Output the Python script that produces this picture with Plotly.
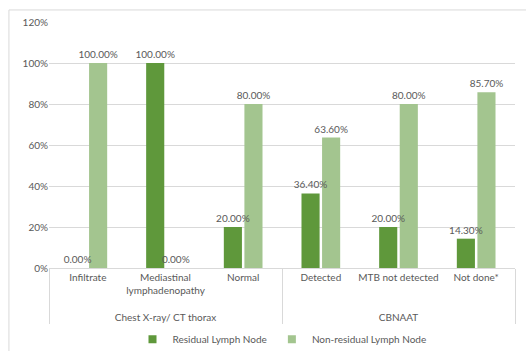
import plotly.graph_objects as go

groups = ["Chest X-ray/ CT thorax"] * 3 + ["CBNAAT"] * 3
categories = ["Infiltrate", "Mediastinal<br>lymphadenopathy<br> ", "Normal",
              "Detected", "MTB not detected", "Not done*"]
residual = [0.0, 100.0, 20.0, 36.4, 20.0, 14.3]
non_residual = [100.0, 0.0, 80.0, 63.6, 80.0, 85.7]
series_names = ["Residual Lymph Node", "Non-residual Lymph Node"]
colors = ["#5f983b", "#a3c58f"]

gray = "#595959"
font = dict(family="Lato, Open Sans, sans-serif", size=10, color=gray)
x = [groups, categories]

fig = go.Figure()
# bars
for vals, name, col, og in zip([residual, non_residual], series_names, colors, ["a", "b"]):
    fig.add_trace(go.Bar(
        x=x, y=vals, name=name, offsetgroup=og, showlegend=False,
        marker=dict(color=col, line=dict(width=0)),
    ))
# labels drawn on top of all bars
for vals, og in zip([residual, non_residual], ["a", "b"]):
    fig.add_trace(go.Bar(
        x=x, y=vals, offsetgroup=og, showlegend=False, hoverinfo="skip",
        marker=dict(color="rgba(0,0,0,0)", line=dict(width=0)),
        texttemplate="%{y:.2f}%", textposition="outside", constraintext="none",
        cliponaxis=False, textfont=font,
    ))
# legend entries with small square swatches
for name, col in zip(series_names, colors):
    fig.add_trace(go.Scatter(
        x=[[groups[0]], [categories[0]]], y=[None], mode="markers", name=name,
        marker=dict(symbol="square", size=8, color=col),
    ))

fig.update_layout(
    width=526, height=351,
    margin=dict(l=49, r=11, t=22, b=83, autoexpand=False),
    paper_bgcolor="white", plot_bgcolor="white",
    barmode="group", bargap=0.47, bargroupgap=0.12,
    font=font,
    showlegend=True,
    legend=dict(orientation="h", x=0.5, xanchor="center",
                yref="container", y=0.075, yanchor="top",
                bgcolor="rgba(0,0,0,0)",
                font=font, itemwidth=30, tracegroupgap=0),
    xaxis=dict(type="multicategory", showgrid=False, showline=True,
               linecolor="#d9d9d9", linewidth=1, tickangle=0, ticks="",
               showdividers=True, dividercolor="#d9d9d9", dividerwidth=1,
               tickfont=font, automargin=False),
    yaxis=dict(range=[0, 120], dtick=20, ticksuffix="%", showgrid=True,
               gridcolor="#d9d9d9", gridwidth=1, zeroline=False,
               showline=False, tickfont=font, ticklen=0, automargin=False),
    shapes=[dict(type="rect", xref="paper", yref="paper",
                 x0=-0.086, x1=2, y0=-1, y1=1.049,
                 line=dict(color="#d9d9d9", width=1), fillcolor="rgba(0,0,0,0)",
                 layer="below")],
)

fig.write_html("out.html")
